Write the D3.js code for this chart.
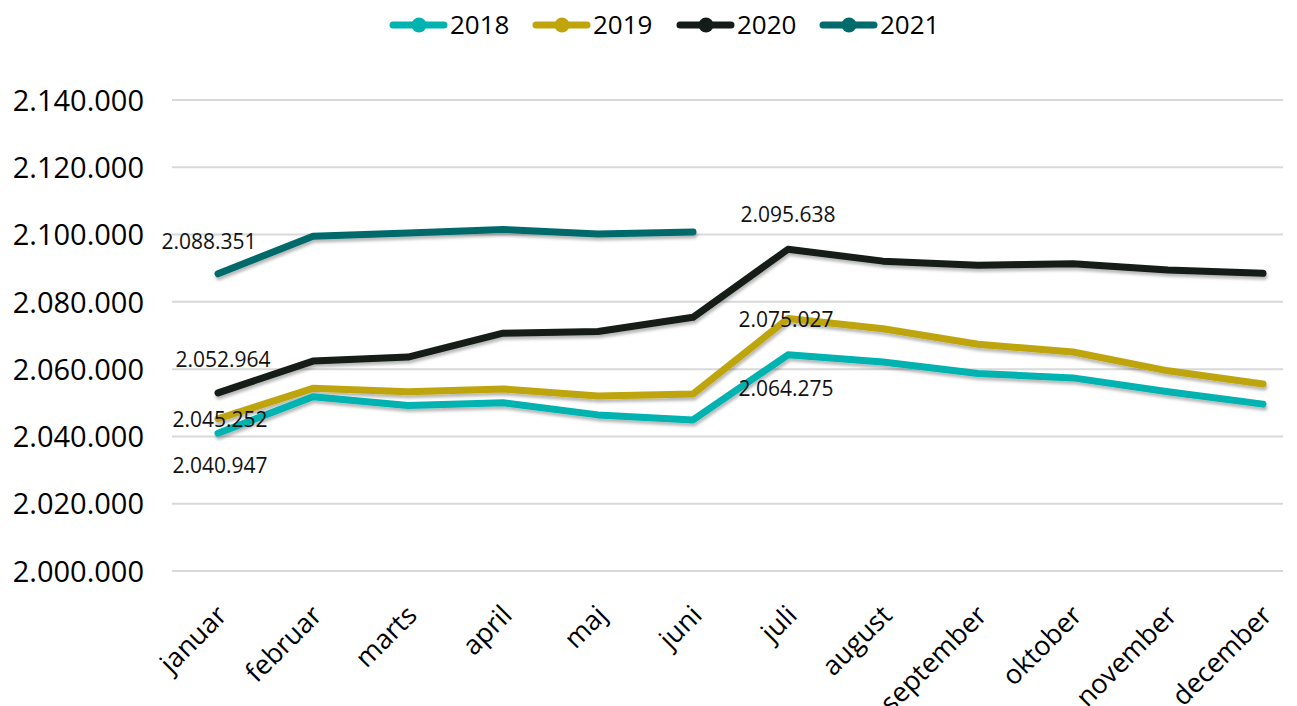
<!DOCTYPE html>
<html>
<head>
<meta charset="utf-8">
<script src="https://cdn.jsdelivr.net/npm/d3@7"></script>
<style>
  body { margin: 0; background: #fff; }
  svg { font-family: "Open Sans", sans-serif; }
</style>
</head>
<body>
<svg id="chart" width="1297" height="706"></svg>
<script>
// months on the x axis
const months = ['januar', 'februar', 'marts', 'april', 'maj', 'juni',
                'juli', 'august', 'september', 'oktober', 'november', 'december']

const years = ['2018', '2019', '2020', '2021']

const values2018 = [2040947, 2051800, 2049200, 2050000, 2046400, 2044900,
                    2064275, 2062100, 2058700, 2057400, 2053300, 2049600]
const values2019 = [2045252, 2054300, 2053300, 2054100, 2052000, 2052600,
                    2075027, 2072000, 2067400, 2065100, 2059500, 2055600]
const values2020 = [2052964, 2062400, 2063600, 2070700, 2071200, 2075400,
                    2095638, 2092100, 2090900, 2091300, 2089500, 2088500]
const values2021 = [2088351, 2099500, 2100500, 2101500, 2100200, 2100800]

const yTicks = [2000000, 2020000, 2040000, 2060000, 2080000, 2100000, 2120000, 2140000]

const colors = ['#00B3B0', '#BFA50B', '#131C18', '#006B6B']

// which points get a value label, and where it sits relative to the point
const labelSpots = [
    {s: 3, i: 0, dx: -9, dy: -25},
    {s: 2, i: 0, dx: 5, dy: -26},
    {s: 1, i: 0, dx: 2, dy: 8},
    {s: 0, i: 0, dx: 2, dy: 40},
    {s: 2, i: 6, dx: 0, dy: -27},
    {s: 1, i: 6, dx: -2, dy: 8},
    {s: 0, i: 6, dx: -2, dy: 41}
]

const series = [values2018, values2019, values2020, values2021].map((v, k) => ({
    name: years[k], color: colors[k], values: v
}))

const fmt = d3.formatLocale({decimal: ',', thousands: '.', grouping: [3], currency: ['', '']}).format(',.0f')

const svg = d3.select('#chart')

const x = d3.scalePoint().domain(months).range([218, 1263])
const y = d3.scaleLinear().domain([2000000, 2140000]).range([571, 100])

// soft shadow under the lines
const defs = svg.append('defs')
const f = defs.append('filter').attr('id', 'shadow')
    .attr('x', '-5%').attr('y', '-20%').attr('width', '110%').attr('height', '150%')
f.append('feDropShadow').attr('dx', 1).attr('dy', 3).attr('stdDeviation', 1.6)
    .attr('flood-color', '#000').attr('flood-opacity', 0.28)

// gridlines
svg.append('g').selectAll('line')
    .data(yTicks).enter().append('line')
    .attr('x1', 172).attr('x2', 1283)
    .attr('y1', d => y(d)).attr('y2', d => y(d))
    .attr('stroke', '#d9d9d9').attr('stroke-width', 2)

// y axis labels
const yAxis = d3.axisLeft(y).tickValues(yTicks).tickFormat(fmt).tickSize(0).tickPadding(0)
const yG = svg.append('g').attr('transform', 'translate(144,0)').call(yAxis)
yG.select('.domain').remove()
yG.selectAll('text').attr('font-size', 29).attr('fill', '#000')
    .attr('font-family', '"Open Sans", sans-serif').attr('dy', '0.35em')

// x axis labels
const xAxis = d3.axisBottom(x).tickSize(0).tickPadding(0)
const xG = svg.append('g').attr('transform', 'translate(0,600)').call(xAxis)
xG.select('.domain').remove()
xG.selectAll('text')
    .attr('font-size', 27).attr('fill', '#000')
    .attr('font-family', '"Open Sans", sans-serif')
    .attr('text-anchor', 'end')
    .attr('x', 0).attr('y', 0).attr('dy', 0)
    .attr('transform', 'translate(10,17) rotate(-45)')

// lines
const line = d3.line()
    .x((d, i) => x(months[i]))
    .y(d => y(d))

svg.append('g').attr('filter', 'url(#shadow)')
    .selectAll('path')
    .data(series).enter().append('path')
    .attr('d', d => line(d.values))
    .attr('fill', 'none')
    .attr('stroke', d => d.color)
    .attr('stroke-width', 7)
    .attr('stroke-linecap', 'round')
    .attr('stroke-linejoin', 'round')

// value labels
svg.append('g').selectAll('text')
    .data(labelSpots).enter().append('text')
    .attr('x', d => x(months[d.i]) + d.dx)
    .attr('y', d => y(series[d.s].values[d.i]) + d.dy)
    .attr('text-anchor', 'middle')
    .attr('font-size', 21)
    .attr('fill', '#111')
    .text(d => fmt(series[d.s].values[d.i]))

// legend
const legendX = [390, 533, 677, 820]
const lg = svg.append('g').selectAll('g')
    .data(series).enter().append('g')
    .attr('transform', (d, i) => `translate(${legendX[i]},25)`)
lg.append('line')
    .attr('x1', 3).attr('x2', 54).attr('y1', 0).attr('y2', 0)
    .attr('stroke', d => d.color).attr('stroke-width', 7)
    .attr('stroke-linecap', 'round')
lg.append('circle')
    .attr('cx', 29).attr('cy', 0).attr('r', 7.5)
    .attr('fill', d => d.color)
lg.append('text')
    .attr('x', 60).attr('y', 0).attr('dy', '0.35em')
    .attr('font-size', 26).attr('fill', '#000')
    .text(d => d.name)
</script>
</body>
</html>
